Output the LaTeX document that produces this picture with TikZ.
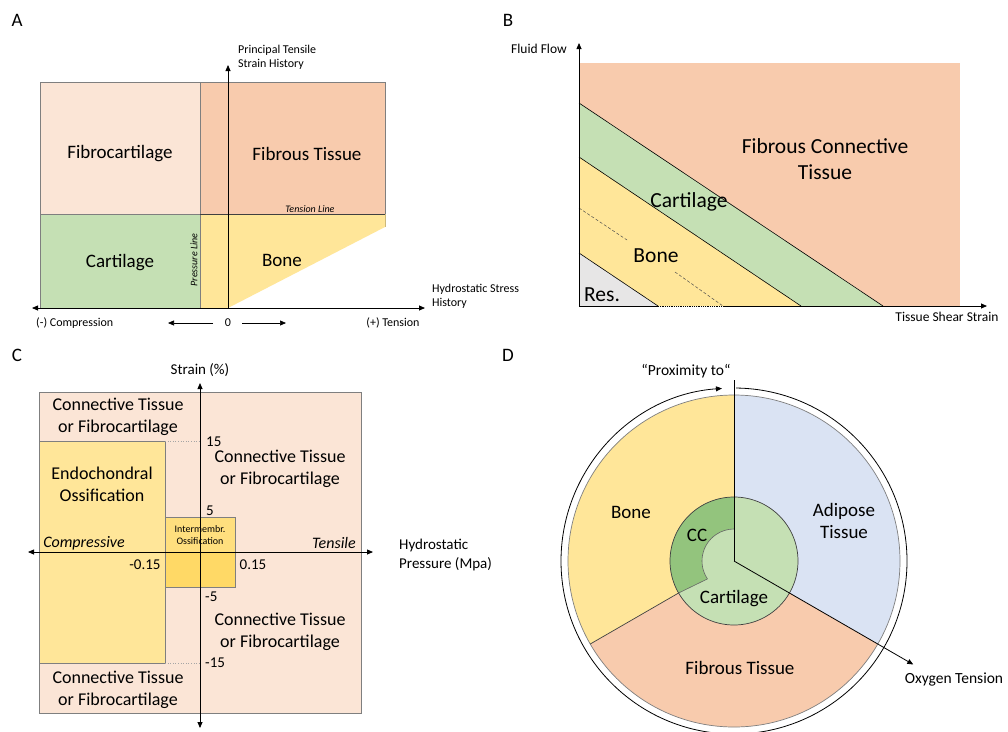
\documentclass[tikz,border=0pt]{standalone}
\usepackage{fontspec}
\setmainfont{Carlito}
\usetikzlibrary{arrows.meta}
\definecolor{pinkL}{HTML}{FBE5D6}
\definecolor{peach}{HTML}{F8CBAD}
\definecolor{greenL}{HTML}{C5E0B4}
\definecolor{yel}{HTML}{FFE699}
\definecolor{blueL}{HTML}{DAE3F3}
\definecolor{greyL}{HTML}{E7E6E6}
\definecolor{greenD}{HTML}{93C47D}
\definecolor{yelD}{HTML}{FFD966}
\definecolor{yelM}{HTML}{FFDF7E}
\definecolor{edge}{HTML}{7F7F7F}
\definecolor{edgeD}{HTML}{404040}
\newcommand{\fsz}[1]{\fontsize{#1}{#1*1.17}\selectfont}
\begin{document}
\begin{tikzpicture}[x=1pt,y=-1pt,
  tip/.style={-{Triangle[length=6pt,width=5pt]}},
  dtip/.style={{Triangle[length=6pt,width=5pt]}-{Triangle[length=6pt,width=5pt]}},
  axisline/.style={line width=0.8pt,black},
  region/.style={draw=edge,line width=0.7pt},
  panel/.style={font=\fontsize{19}{22}\selectfont},
  big/.style={font=\fontsize{19}{22}\selectfont,align=center,inner sep=0pt},
  bigB/.style={font=\fontsize{21.5}{26}\selectfont,align=center,inner sep=0pt},
  bigC/.style={font=\fontsize{18}{22}\selectfont,align=center,inner sep=0pt},
  small/.style={font=\fontsize{12}{14}\selectfont,align=left,inner sep=0pt},
  smallB/.style={font=\fontsize{13.5}{16}\selectfont,align=left,inner sep=0pt},
  smallC/.style={font=\fontsize{15}{19}\selectfont,align=left,inner sep=0pt},
  tiny/.style={font=\fontsize{10}{11.5}\selectfont\itshape,inner sep=0pt},
]
\useasboundingbox (0,0) rectangle (1008,731);
\fill[white] (0,0) rectangle (1008,731);

% ================= Panel A =================
\node[panel] (labA) at (17,20) {A};
\fill[pinkL] (40,82) rectangle (200,214);
\fill[peach] (200,82) rectangle (385,214);
\fill[greenL] (40,214) rectangle (200,308);
\fill[yel] (200,214) -- (385,214) -- (385,227) -- (228,308) -- (200,308) -- cycle;
\draw[region] (40,308) -- (40,82) -- (385,82) -- (385,214);
\draw[region] (200,82) -- (200,308);
\draw[region] (40,214) -- (200,214);
\draw[draw=edgeD,line width=0.7pt] (200,214) -- (385,214);
\draw[draw=yel!80!black,line width=0.4pt] (385,214) -- (385,227);

\coordinate (aO) at (228,308);
\coordinate (aLeft) at (32,308);
\coordinate (aRight) at (425,308);
\coordinate (aUp) at (228,65);
\draw[axisline,dtip] (aLeft) -- (aRight);
\draw[axisline,tip] (aO) -- (aUp);

\node[big] (fibroA) at (120,154) {Fibrocartilage};
\node[big] (fibrousA) at (307,154) {Fibrous Tissue};
\node[big] (cartA) at (120,263) {Cartilage};
\node[big] (boneA) at (282,260) {Bone};
\node[tiny] (tensionA) at (310,209) {Tension Line};
\node[tiny,rotate=90] (pressA) at (194,260) {Pressure Line};
\node[small,anchor=west] (ptsh) at (238,57) {Principal Tensile\\Strain History};
\node[small,anchor=west] (hsh) at (432,296) {Hydrostatic Stress\\History};
\node[small,anchor=west] (compA) at (36,323) {(-) Compression};
\node[small] (tensA) at (393,323) {(+) Tension};
\node[small,inner sep=2pt] (zeroA) at (228,323) {0};
\coordinate (zL) at (168,323);
\coordinate (zR) at (286,323);
\draw[line width=0.7pt,tip] (213,323) -- (zL);
\draw[line width=0.7pt,tip] (242,323) -- (zR);

% ================= Panel B =================
\node[panel] (labB) at (508,20) {B};
\fill[peach] (579,63) rectangle (960,306);
\fill[greenL] (579,103) -- (883,306) -- (579,306) -- cycle;
\fill[yel] (579,157) -- (801,306) -- (579,306) -- cycle;
\fill[greyL] (579,253) -- (658,306) -- (579,306) -- cycle;
\draw[line width=0.6pt] (579,103) -- (883,306);
\draw[line width=0.6pt] (579,157) -- (801,306);
\draw[line width=0.6pt] (579,253) -- (658,306);
\draw[densely dashed,line width=0.5pt,black!70] (579,208) -- (627,240);
\draw[densely dashed,line width=0.5pt,black!70] (675,272) -- (723,306);
\coordinate (bO) at (579,306);
\coordinate (bUp) at (579,43);
\coordinate (bRight) at (987,306);
\draw[axisline,tip] (bO) -- (bUp);
\draw[axisline] (bO) -- (658,306);
\draw[axisline,densely dotted] (658,306) -- (723,306);
\draw[axisline,tip] (723,306) -- (bRight);
\node[bigB] (fctB) at (825,159) {Fibrous Connective\\Tissue};
\node[bigB] (cartB) at (689,202) {Cartilage};
\node[bigB] (boneB) at (656,256) {Bone};
\node[bigB] (resB) at (602,295) {Res.};
\node[smallB] (ffB) at (539,49) {Fluid Flow};
\node[smallB] (tssB) at (947,317) {Tissue Shear Strain};

% ================= Panel C =================
\node[panel] (labC) at (17,355) {C};
\fill[pinkL] (39,392) rectangle (361,713);
\draw[region] (39,392) rectangle (361,713);
\fill[yel] (39,441) rectangle (165,663);
\draw[region] (39,441) rectangle (165,663);
\fill[yelM] (165,517) rectangle (235,552);
\fill[yelD] (165,552) rectangle (235,587);
\draw[region] (165,517) rectangle (235,587);
\draw[dotted,edge!70,line width=0.6pt] (165,441) -- (200,441);
\draw[dotted,edge!70,line width=0.6pt] (165,663) -- (200,663);
\coordinate (cTop) at (200,383);
\coordinate (cBot) at (200,728);
\coordinate (cLeft) at (28,552);
\coordinate (cRight) at (373,552);
\draw[axisline,dtip] (cBot) -- (cTop);
\draw[axisline,dtip] (cLeft) -- (cRight);
\node[bigC] (ctTL) at (118,417) {Connective Tissue\\or Fibrocartilage};
\node[bigC] (ctTR) at (280,469) {Connective Tissue\\or Fibrocartilage};
\node[bigC] (ctBR) at (280,632) {Connective Tissue\\or Fibrocartilage};
\node[bigC] (ctBL) at (118,690) {Connective Tissue\\or Fibrocartilage};
\node[bigC] (endoC) at (102,484) {Endochondral\\Ossification};
\node[font=\fontsize{10}{11.5}\selectfont,align=center,inner sep=0pt] (interC) at (200,535) {Intermembr.\\Ossification};
\node[smallC,font=\fontsize{16}{19}\selectfont\itshape] (compC) at (84,543) {Compressive};
\node[smallC,font=\fontsize{16}{19}\selectfont\itshape] (tensC) at (334,543) {Tensile};
\node[smallC,anchor=west] (n15) at (206,442) {15};
\node[smallC,anchor=west] (n5) at (206,511) {5};
\node[smallC,anchor=west] (nm5) at (205,597) {-5};
\node[smallC,anchor=west] (nm15) at (205,663) {-15};
\node[smallC] (nm015) at (145,565) {-0.15};
\node[smallC] (n015) at (253,565) {0.15};
\node[smallC] (strainC) at (200,370) {Strain (\%)};
\node[smallC,anchor=west] (hpC) at (399,555) {Hydrostatic\\Pressure (Mpa)};

% ================= Panel D =================
\node[panel] (labD) at (508,355) {D};
\begin{scope}[shift={(734,561)},y=1pt]
  \fill[blueL] (0,0) -- (90:166) arc[start angle=90,end angle=-30,radius=166] -- cycle;
  \fill[peach] (0,0) -- (-30:166) arc[start angle=-30,end angle=-150,radius=166] -- cycle;
  \fill[yel] (0,0) -- (210:166) arc[start angle=210,end angle=90,radius=166] -- cycle;
  \draw[edge,line width=0.7pt] (0,0) circle (166);
  \draw[edgeD,line width=0.7pt] (210:64) -- (210:166);
  \fill[greenL] (0,0) circle (64);
  \fill[greenD] (90:64) arc[start angle=90,end angle=210,radius=64]
     -- (214:32) arc[start angle=214,end angle=90,radius=32] -- cycle;
  \draw[edgeD!80,line width=0.6pt] (214:32) arc[start angle=214,end angle=90,radius=32];
  \draw[edgeD!80,line width=0.6pt] (214:32) -- (210:64);
  \draw[edgeD,line width=0.7pt] (0,0) circle (64);
  \coordinate (dC) at (0,0);
  \coordinate (dTop) at (90:181);
  \coordinate (dOxy) at (-30:207);
  \draw[line width=0.8pt] (dC) -- (dTop);
  \draw[line width=0.8pt,tip] (dC) -- (dOxy);
  \draw[line width=0.8pt,tip] (89.3:173) arc[start angle=89.3,end angle=-266,radius=173];
\end{scope}
\node[big] (boneD) at (631,512) {Bone};
\node[big] (adiD) at (844,521) {Adipose\\Tissue};
\node[big] (ccD) at (697,535) {CC};
\node[big] (cartD) at (734,599) {Cartilage};
\node[big] (fibD) at (740,668) {Fibrous Tissue};
\node[smallC,font=\fontsize{15.5}{18}\selectfont] (oxyD) at (954,679) {Oxygen Tension};
\node[smallC,font=\fontsize{15.5}{18}\selectfont] (proxD) at (686,371) {“Proximity to“};
\end{tikzpicture}
\end{document}
